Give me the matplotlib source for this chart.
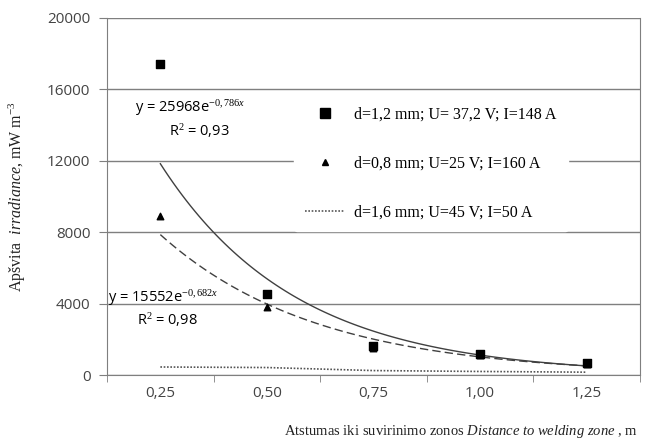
import numpy as np
import matplotlib
matplotlib.use('Agg')
import matplotlib.pyplot as plt
from matplotlib.lines import Line2D

# distance to welding zone, m
distance = [0.25, 0.50, 0.75, 1.00, 1.25]
dist_labels = ['0,25', '0,50', '0,75', '1,00', '1,25']

# irradiance, mW m-3
irr_12 = [17400, 4550, 1650, 1200, 700]   # d=1,2 mm
irr_08 = [8900, 3800, 1500, 1100, 600]    # d=0,8 mm
irr_16 = [450, 420, 250, 200, 160]        # d=1,6 mm

# Excel exponential trendlines (x = category index 1..5)
fit_12 = (25968, -0.786)
fit_08 = (15552, -0.682)

label_12 = 'd=1,2 mm; U= 37,2 V; I=148 A'
label_08 = 'd=0,8 mm; U=25 V; I=160 A'
label_16 = 'd=1,6 mm; U=45 V; I=50 A'

plt.rcParams['mathtext.fontset'] = 'custom'
plt.rcParams['mathtext.rm'] = 'Liberation Serif'
plt.rcParams['mathtext.it'] = 'Liberation Serif:italic'

grey = '#7f7f7f'
tickfont = 'Open Sans'

fig = plt.figure(figsize=(6.45, 4.47), dpi=100)
ax = fig.add_axes([0.166, 0.161, 0.826, 0.799])

step = distance[1] - distance[0]

# trendlines
xs = np.linspace(1, 5, 100)
xd = distance[0] + (xs - 1) * step
ax.plot(xd, fit_12[0] * np.exp(fit_12[1] * xs), color='#404040', lw=1.0, zorder=2)
ax.plot(xd, fit_08[0] * np.exp(fit_08[1] * xs), color='#404040', lw=1.0,
        ls=(0, (6, 3)), zorder=2)

ax.plot(distance, irr_16, color='#555555', lw=1.2, ls=(0, (1, 1)), zorder=2)
ax.scatter(distance, irr_08, marker='^', s=22, color='black', zorder=3)
ax.scatter(distance, irr_12, marker='s', s=40, color='black', zorder=4)

ax.set_xlim(distance[0] - step / 2, distance[-1] + step / 2)
ax.set_ylim(0, 20000)
ax.set_yticks(np.arange(0, 20001, 4000))
ax.set_yticklabels([str(v) for v in range(0, 20001, 4000)], fontfamily=tickfont,
                   fontsize=11, color='#444444')
ax.set_xticks(distance)
ax.set_xticklabels(dist_labels, fontfamily=tickfont, fontsize=11, color='#444444')
ax.set_xticks(np.arange(distance[0] - step / 2, distance[-1] + step, step), minor=True)
ax.tick_params(axis='x', which='major', length=0, pad=8)
ax.tick_params(axis='x', which='minor', length=5, color=grey, direction='out')
ax.tick_params(axis='y', length=6, color=grey, pad=6)

ax.grid(axis='y', color=grey, lw=1.0)
ax.set_axisbelow(True)
for s in ['left', 'right', 'bottom']:
    ax.spines[s].set_color(grey)
ax.spines['top'].set_visible(False)

# equations
eq = dict(fontfamily=tickfont, fontsize=10.5, ha='left', va='center')
ax.text(0.19, 14950, 'y = 25968e$^{-0,786x}$', **eq)
ax.text(0.27, 13650, 'R$^2$ = 0,93', **eq)
ax.text(0.127, 4300, 'y = 15552e$^{-0,682x}$', **eq)
ax.text(0.195, 3080, 'R$^2$ = 0,98', **eq)

handles = [
    Line2D([], [], marker='s', color='black', ls='none', markersize=7),
    Line2D([], [], marker='^', color='black', ls='none', markersize=4),
    Line2D([], [], color='#555555', lw=1.2, ls=(0, (1, 1))),
]
leg = ax.legend(handles, [label_12, label_08, label_16], loc='upper left',
                bbox_to_anchor=(0.335, 0.805), frameon=True, facecolor='white',
                edgecolor='white', framealpha=1.0, labelspacing=2.05,
                handlelength=2.5, handletextpad=0.6, borderpad=0.7,
                prop={'family': 'Liberation Serif', 'size': 11.5})
leg.set_zorder(5)

fig.text(0.027, 0.56, 'Apšvita  $\\mathit{irradiance}$, mW m$^{-3}$', rotation=90,
         ha='center', va='center', fontfamily='Liberation Serif', fontsize=11.5,
         color='#222222')
fig.text(0.715, 0.035, 'Atstumas iki suvirinimo zonos $\\mathit{Distance\\ to\\ welding\\ zone}$ , m',
         ha='center', va='center', fontfamily='Liberation Serif', fontsize=10.5,
         color='#222222')

fig.savefig('out.png', dpi=100)
